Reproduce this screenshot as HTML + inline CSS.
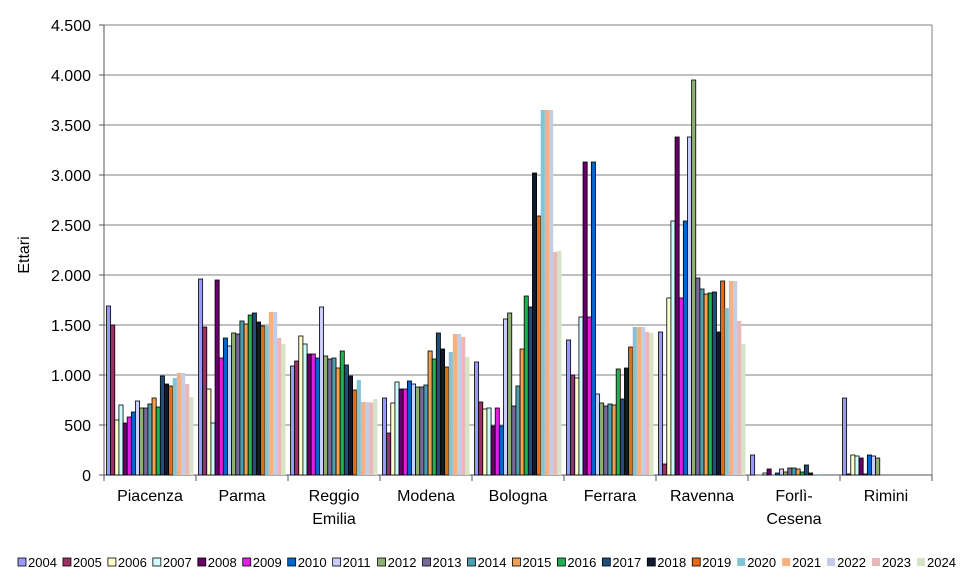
<!DOCTYPE html>
<html><head><meta charset="utf-8"><style>
html,body{margin:0;padding:0;background:#fff;}
svg{display:block;font-family:"Liberation Sans",Arial,sans-serif;}
</style></head><body>
<svg id="c" width="966" height="588" viewBox="0 0 966 588">
<g id="grid" stroke="#808080" stroke-width="1"></g>
<g id="bars"></g>
<g font-size="16" fill="#000" text-anchor="end">
<text x="91" y="31">4.500</text><text x="91" y="81">4.000</text><text x="91" y="131">3.500</text>
<text x="91" y="181">3.000</text><text x="91" y="231">2.500</text><text x="91" y="281">2.000</text>
<text x="91" y="331">1.500</text><text x="91" y="381">1.000</text><text x="91" y="431">500</text>
<text x="91" y="481">0</text>
</g>
<text x="29" y="255" font-size="16" text-anchor="middle" transform="rotate(-90 29 255)">Ettari</text>
<g font-size="16" text-anchor="middle">
<text x="150" y="501">Piacenza</text>
<text x="242" y="501">Parma</text>
<text x="334" y="501">Reggio</text><text x="334" y="524">Emilia</text>
<text x="426" y="501">Modena</text>
<text x="518" y="501">Bologna</text>
<text x="610" y="501">Ferrara</text>
<text x="702" y="501">Ravenna</text>
<text x="794" y="501">Forlì-</text><text x="794" y="524">Cesena</text>
<text x="886" y="501">Rimini</text>
</g>
<g id="leg" font-size="13"></g>
</svg>
<script>
var ns="http://www.w3.org/2000/svg";
function el(p,t,a,txt){var e=document.createElementNS(ns,t);for(var k in a)e.setAttribute(k,a[k]);if(txt)e.textContent=txt;p.appendChild(e);return e;}
var g=document.getElementById('grid');
for(var v=500;v<=4500;v+=500){var y=475-v/10;el(g,'line',{x1:104,x2:932,y1:y,y2:y});}
el(g,'line',{x1:932,x2:932,y1:25,y2:475});
el(g,'line',{x1:104,x2:104,y1:25,y2:475,stroke:'#555'});
el(g,'line',{x1:104,x2:932,y1:475,y2:475,stroke:'#555'});
for(var i=0;i<=9;i++){var x=104+i*92;el(g,'line',{x1:x,x2:x,y1:475,y2:481,stroke:'#555'});}
for(var v=0;v<=4500;v+=500){var y=475-v/10;el(g,'line',{x1:99,x2:104,y1:y,y2:y,stroke:'#555'});}
var cols=["#9999ff","#993366","#ffffcc","#ccffff","#660066","#e020e0","#0066cc","#ccccff","#8fb070","#7a6a9a","#4aa0b0","#f0a050","#20b050","#1f4e79","#0f1a30","#e86a10","#80c4d8","#f8b080","#c4cce8","#e8b8b8","#d4e4c4"];
var D=[
[1690,1500,550,700,520,580,630,740,670,670,710,770,680,990,910,890,970,1020,1020,910,780],
[1960,1480,860,520,1950,1170,1370,1290,1420,1410,1540,1510,1600,1620,1530,1490,1490,1630,1630,1370,1310],
[1090,1140,1390,1310,1210,1210,1170,1680,1190,1160,1170,1070,1240,1100,990,850,950,730,730,725,760],
[770,420,720,930,860,860,940,910,880,880,900,1240,1160,1420,1260,1080,1230,1410,1410,1380,1180],
[1130,730,660,670,490,670,490,1560,1620,690,890,1260,1790,1680,3020,2590,3650,3650,3650,2230,2240],
[1350,1000,970,1580,3130,1580,3130,810,720,690,710,700,1060,760,1070,1280,1480,1480,1480,1430,1420],
[1430,110,1770,2540,3380,1770,2540,3380,3950,1970,1860,1810,1820,1830,1430,1940,1670,1940,1940,1540,1310],
[200,0,0,20,60,0,20,60,30,70,70,60,30,100,20,0,10,0,0,0,0],
[770,10,200,190,170,10,200,190,170,0,0,0,0,0,0,0,0,0,0,0,0]];
var b=document.getElementById('bars'),w=4.14;
for(var c=0;c<9;c++)for(var s=0;s<21;s++){var v=D[c][s];if(!v)continue;var x=104+c*92+2.5+s*w,h=v/10;
var a={x:x.toFixed(2),y:(475-h).toFixed(2),width:w.toFixed(2),height:h.toFixed(2),fill:cols[s]};
if(s<16){a.stroke='#000';a['stroke-width']=0.8;}el(b,'rect',a);}
var L=document.getElementById('leg');
for(var s=0;s<21;s++){var x=18+s*44.95;var a={x:x,y:558,width:8,height:8,fill:cols[s]};if(s<16){a.stroke='#000';a['stroke-width']=0.8;}el(L,'rect',a);el(L,'text',{x:x+10,y:567},String(2004+s));}
</script>
</body></html>
